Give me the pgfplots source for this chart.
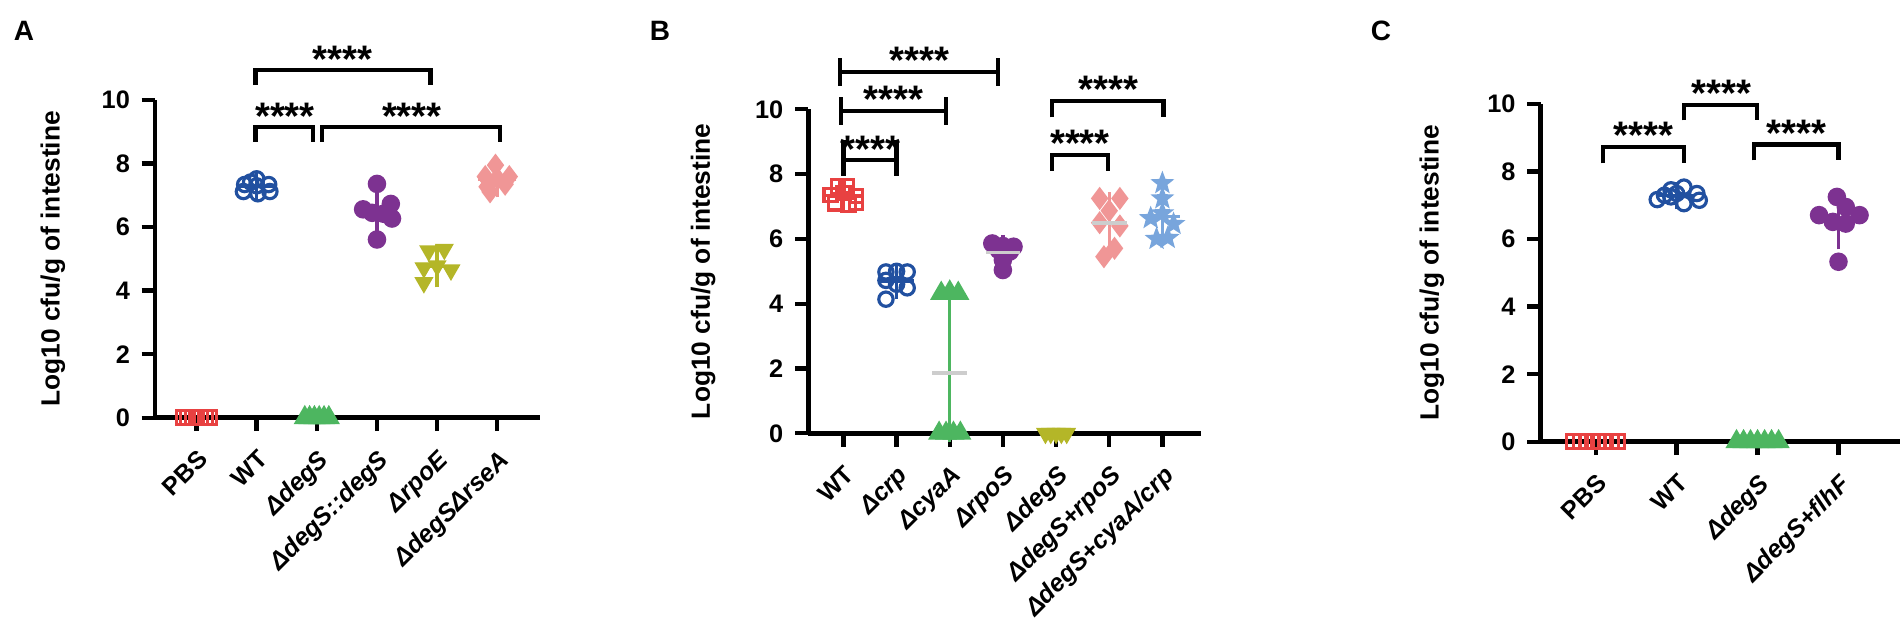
\documentclass[border=0pt]{standalone}
\usepackage{pgfplots}
\pgfplotsset{compat=1.18}
\usepackage{fontspec}
\setmainfont{Liberation Sans}
\usetikzlibrary{plotmarks}
\definecolor{cred}{RGB}{232,65,65}
\definecolor{cblue}{RGB}{33,80,160}
\definecolor{cgreen}{RGB}{77,182,96}
\definecolor{cpurple}{RGB}{125,50,145}
\definecolor{colive}{RGB}{180,182,40}
\definecolor{cpink}{RGB}{240,150,150}
\definecolor{clblue}{RGB}{120,165,220}
\definecolor{cgray}{RGB}{205,205,205}
\pgfdeclareplotmark{fstar}{%
  \pgfpathmoveto{\pgfpointpolar{90}{\pgfplotmarksize}}%
  \pgfpathlineto{\pgfpointpolar{126}{0.42\pgfplotmarksize}}%
  \pgfpathlineto{\pgfpointpolar{162}{\pgfplotmarksize}}%
  \pgfpathlineto{\pgfpointpolar{198}{0.42\pgfplotmarksize}}%
  \pgfpathlineto{\pgfpointpolar{234}{\pgfplotmarksize}}%
  \pgfpathlineto{\pgfpointpolar{270}{0.42\pgfplotmarksize}}%
  \pgfpathlineto{\pgfpointpolar{306}{\pgfplotmarksize}}%
  \pgfpathlineto{\pgfpointpolar{342}{0.42\pgfplotmarksize}}%
  \pgfpathlineto{\pgfpointpolar{18}{\pgfplotmarksize}}%
  \pgfpathlineto{\pgfpointpolar{54}{0.42\pgfplotmarksize}}%
  \pgfpathclose\pgfusepathqfillstroke}
\pgfplotsset{
  panel/.style={scale only axis, anchor=south west, ymin=0, ymax=10, ytick={0,2,...,10},
    axis x line*=bottom, axis y line*=left, clip=false, tick align=outside,
    major tick length=4pt, major tick style={black, line width=1.3pt},
    axis line style={line width=1.4pt, -},
    /pgf/number format/assume math mode=true,
    yticklabel style={font=\fontsize{7.6}{8}\selectfont\bfseries},
    xticklabel style={yshift=-5pt, rotate=45, anchor=north east, inner sep=0pt, font=\fontsize{7.5}{8}\selectfont\bfseries},
    ylabel={Log10 cfu/g of intestine},
    label style={font=\fontsize{7.9}{9}\selectfont\bfseries}},
  pts/.style={only marks, mark options={line width=0.95pt}},
}
\tikzset{
  sig/.style={font=\fontsize{11.5}{12}\selectfont\bfseries, anchor=base, yshift=-6.3pt, inner sep=0pt},
  br/.style={line width=1.25pt, black},
  plab/.style={font=\fontsize{8.4}{9}\selectfont\bfseries, anchor=center}
}
\begin{document}
\begin{tikzpicture}
\useasboundingbox (0,0) rectangle (571.2pt,188.7pt);
\node[plab] at (7.2pt,179.55pt) {A};
\node[plab] at (198pt,179.55pt) {B};
\node[plab] at (414.3pt,179.55pt) {C};
% ---------------- Panel A
\begin{axis}[panel, at={(46.5pt,63.39pt)}, width=115.5pt, height=95.3pt,
  xmin=-0.69, xmax=5.71, xtick={0,...,5},
  xticklabels={PBS, WT, \textit{ΔdegS}, \textit{ΔdegS::degS}, \textit{ΔrpoE}, \textit{ΔdegSΔrseA}},
  ylabel style={at={(axis description cs:-0.265,0.5)}, anchor=center}]
\addplot[pts, mark=square, mark size=2.1pt, color=cred] coordinates {(-0.22,0)(-0.147,0)(-0.073,0)(0,0)(0.073,0)(0.147,0)(0.22,0)};
\addplot[pts, mark=o, mark size=2.15pt, color=cblue] coordinates {(1.0,7.52)(0.8,7.34)(1.2,7.34)(1.0,7.30)(0.78,7.12)(1.02,7.05)(1.22,7.12)(0.9,7.42)};
\addplot[pts, mark=triangle*, mark size=2.9pt, color=cgreen] coordinates {(1.8,0)(1.88,0)(1.96,0)(2.04,0)(2.12,0)(2.2,0)};
\addplot[pts, mark=*, mark size=2.3pt, color=cpurple] coordinates {(3.0,7.36)(3.23,6.73)(2.77,6.56)(2.92,6.45)(3.11,6.42)(3.25,6.27)(3.0,5.61)};
\addplot[pts, mark=triangle*, mark size=2.9pt, mark options={rotate=180}, color=colive] coordinates {(3.86,5.25)(4.12,5.3)(4.0,4.78)(3.78,4.72)(4.23,4.65)(3.78,4.25)};
\addplot[pts, mark=diamond*, mark size=2.7pt, color=cpink] coordinates {(4.97,7.95)(4.8,7.59)(5.2,7.59)(5.0,7.54)(4.83,7.27)(5.13,7.35)(4.88,7.11)};
% means and SD
\addplot[only marks, mark=-, mark size=5.7pt, color=cblue, line width=1pt, error bars/.cd, y dir=both, y explicit, error bar style={line width=1pt}, error mark options={mark size=2.7pt, line width=1pt}] coordinates {(1,7.28) +- (0,0.15)};
\addplot[only marks, mark=-, mark size=5.7pt, color=cpurple, line width=1pt, error bars/.cd, y dir=both, y explicit, error bar style={line width=1pt}, error mark options={mark size=2.7pt, line width=1pt}] coordinates {(3,6.48) +- (0,0.54)};
\addplot[only marks, mark=-, mark size=5.7pt, color=colive, line width=1pt, error bars/.cd, y dir=both, y explicit, error bar style={line width=1pt}, error mark options={mark size=2.7pt, line width=1pt}] coordinates {(4,4.77) +- (0,0.38)};
\addplot[only marks, mark=-, mark size=5.7pt, color=cpink, line width=1pt, error bars/.cd, y dir=both, y explicit, error bar style={line width=1pt}, error mark options={mark size=2.7pt, line width=1pt}] coordinates {(5,7.49) +- (0,0.27)};
% significance
\draw[br] (axis cs:0.98,10.47) -- (axis cs:0.98,10.94) -- (axis cs:3.89,10.94) -- (axis cs:3.89,10.47);
\draw[br] (axis cs:0.98,8.69) -- (axis cs:0.98,9.14) -- (axis cs:1.93,9.14) -- (axis cs:1.93,8.69);
\draw[br] (axis cs:2.08,8.69) -- (axis cs:2.08,9.14) -- (axis cs:5.05,9.14) -- (axis cs:5.05,8.69);
\node[sig] at (axis cs:2.43,11.52) {****};
\node[sig] at (axis cs:1.47,9.74) {****};
\node[sig] at (axis cs:3.58,9.74) {****};
\end{axis}
% ---------------- Panel B
\begin{axis}[panel, at={(242.5pt,58.71pt)}, width=117.7pt, height=97.2pt,
  xmin=-0.66, xmax=6.72, xtick={0,...,6},
  xticklabels={WT, \textit{Δcrp}, \textit{ΔcyaA}, \textit{ΔrpoS}, \textit{ΔdegS}, \textit{ΔdegS+rpoS}, \textit{ΔdegS+cyaA/crp}},
  ylabel style={at={(axis description cs:-0.268,0.5)}, anchor=center}]
\addplot[pts, mark=square, mark size=2.0pt, color=cred] coordinates {(-0.1,7.62)(0.06,7.64)(-0.24,7.35)(0.0,7.42)(0.24,7.33)(-0.16,7.1)(0.1,7.04)(0.24,7.12)};
\addplot[pts, mark=o, mark size=2.15pt, color=cblue] coordinates {(0.8,4.98)(1.0,5.0)(1.2,4.98)(0.8,4.72)(1.0,4.6)(1.2,4.49)(0.8,4.14)};
\addplot[only marks, mark=-, mark size=5.2pt, color=cgray, line width=1pt, error bars/.cd, y dir=both, y explicit, error bar style={line width=1pt, cgreen}, error mark options={mark size=2.5pt, line width=1pt, cgreen}] coordinates {(2,1.86) += (0,2.32) -= (0,1.86)};
\addplot[pts, mark=triangle*, mark size=2.9pt, color=cgreen] coordinates {(1.84,4.32)(2.0,4.36)(2.16,4.32)(1.8,0)(1.93,0)(2.07,0)(2.2,0)};
\addplot[pts, mark=*, mark size=2.3pt, color=cpurple] coordinates {(2.8,5.86)(3.0,5.78)(3.2,5.76)(2.92,5.66)(3.13,5.61)(3.0,5.35)(3.0,5.04)};
\addplot[pts, mark=triangle*, mark size=2.9pt, mark options={rotate=180}, color=colive] coordinates {(3.8,0)(3.9,0)(4.0,0)(4.1,0)(4.2,0)};
\addplot[pts, mark=diamond*, mark size=2.7pt, color=cpink] coordinates {(4.82,7.25)(5.2,7.25)(5.0,6.87)(4.82,6.5)(5.2,6.4)(5.1,5.71)(4.9,5.45)};
\addplot[pts, mark=fstar, mark size=2.4pt, color=clblue] coordinates {(6.0,7.72)(6.0,7.25)(6.0,6.79)(5.78,6.64)(6.21,6.46)(5.89,6.0)(6.1,6.03)};
\addplot[only marks, mark=-, mark size=5.2pt, color=cred, line width=1pt, error bars/.cd, y dir=both, y explicit, error bar style={line width=1pt}, error mark options={mark size=2.5pt, line width=1pt}] coordinates {(0,7.33) +- (0,0.22)};
\addplot[only marks, mark=-, mark size=5.2pt, color=cblue, line width=1pt, error bars/.cd, y dir=both, y explicit, error bar style={line width=1pt}, error mark options={mark size=2.5pt, line width=1pt}] coordinates {(1,4.70) +- (0,0.3)};
\addplot[only marks, mark=-, mark size=5.2pt, color=cgray, line width=1pt, error bars/.cd, y dir=both, y explicit, error bar style={line width=1pt, cpurple}, error mark options={mark size=2.5pt, line width=1pt, cpurple}] coordinates {(3,5.58) +- (0,0.29)};
\addplot[only marks, mark=-, mark size=5.2pt, color=cgray, line width=1pt, error bars/.cd, y dir=both, y explicit, error bar style={line width=1pt, cpink}, error mark options={mark size=2.5pt, line width=1pt, cpink}] coordinates {(5,6.49) +- (0,0.69)};
\addplot[only marks, mark=-, mark size=5.2pt, color=clblue, line width=1pt, error bars/.cd, y dir=both, y explicit, error bar style={line width=1pt}, error mark options={mark size=2.5pt, line width=1pt}] coordinates {(6,6.70) +- (0,0.59)};
\draw[br] (axis cs:-0.06,11.16) -- (axis cs:2.91,11.16);
\draw[br] (axis cs:-0.06,10.72) -- (axis cs:-0.06,11.57);
\draw[br] (axis cs:2.91,10.72) -- (axis cs:2.91,11.57);
\draw[br] (axis cs:-0.05,9.96) -- (axis cs:1.93,9.96);
\draw[br] (axis cs:-0.05,9.52) -- (axis cs:-0.05,10.37);
\draw[br] (axis cs:1.93,9.52) -- (axis cs:1.93,10.37);
\draw[br] (axis cs:0,8.44) -- (axis cs:1.0,8.44);
\draw[br] (axis cs:0,7.95) -- (axis cs:0,9.05);
\draw[br] (axis cs:1.0,7.95) -- (axis cs:1.0,9.05);
\draw[br] (axis cs:3.92,9.75) -- (axis cs:3.92,10.26) -- (axis cs:6.02,10.26) -- (axis cs:6.02,9.75);
\draw[br] (axis cs:3.92,8.1) -- (axis cs:3.92,8.59) -- (axis cs:4.98,8.59) -- (axis cs:4.98,8.1);
\node[sig] at (axis cs:1.43,11.75) {****};
\node[sig] at (axis cs:0.94,10.54) {****};
\node[sig] at (axis cs:0.51,9.0) {****};
\node[sig] at (axis cs:4.98,10.85) {****};
\node[sig] at (axis cs:4.45,9.18) {****};
\end{axis}
% ---------------- Panel C
\begin{axis}[panel, at={(462.2pt,56.19pt)}, width=107.8pt, height=101.3pt,
  xmin=-0.68, xmax=3.76, xtick={0,...,3},
  xticklabels={PBS, WT, \textit{ΔdegS}, \textit{ΔdegS+flhF}},
  ylabel style={at={(axis description cs:-0.3025,0.5)}, anchor=center}]
\addplot[pts, mark=square, mark size=2.1pt, color=cred] coordinates {(-0.27,0)(-0.193,0)(-0.116,0)(-0.039,0)(0.039,0)(0.116,0)(0.193,0)(0.27,0)};
\addplot[pts, mark=o, mark size=2.15pt, color=cblue] coordinates {(1.09,7.54)(0.93,7.46)(1.0,7.35)(0.76,7.17)(1.28,7.15)(1.09,7.05)(0.93,7.25)(1.25,7.35)(0.85,7.3)};
\addplot[pts, mark=triangle*, mark size=2.9pt, color=cgreen] coordinates {(1.74,0)(1.827,0)(1.913,0)(2.0,0)(2.087,0)(2.173,0)(2.26,0)};
\addplot[pts, mark=*, mark size=2.3pt, color=cpurple] coordinates {(2.98,7.25)(3.09,6.95)(2.76,6.71)(3.26,6.71)(2.93,6.51)(3.09,6.46)(3.0,5.33)};
\addplot[only marks, mark=-, mark size=5.5pt, color=cblue, line width=1pt, error bars/.cd, y dir=both, y explicit, error bar style={line width=1pt}, error mark options={mark size=2.65pt, line width=1pt}] coordinates {(1,7.29) +- (0,0.15)};
\addplot[only marks, mark=-, mark size=5.5pt, color=cpurple, line width=1pt, error bars/.cd, y dir=both, y explicit, error bar style={line width=1pt}, error mark options={mark size=2.65pt, line width=1pt}] coordinates {(3,6.56) +- (0,0.6)};
\draw[br] (axis cs:0.09,8.24) -- (axis cs:0.09,8.73) -- (axis cs:1.09,8.73) -- (axis cs:1.09,8.24);
\draw[br] (axis cs:1.09,9.52) -- (axis cs:1.09,9.96) -- (axis cs:1.99,9.96) -- (axis cs:1.99,9.52);
\draw[br] (axis cs:1.96,8.33) -- (axis cs:1.96,8.8) -- (axis cs:3.0,8.8) -- (axis cs:3.0,8.33);
\node[sig] at (axis cs:0.59,9.3) {****};
\node[sig] at (axis cs:1.55,10.55) {****};
\node[sig] at (axis cs:2.48,9.37) {****};
\end{axis}
\end{tikzpicture}
\end{document}
